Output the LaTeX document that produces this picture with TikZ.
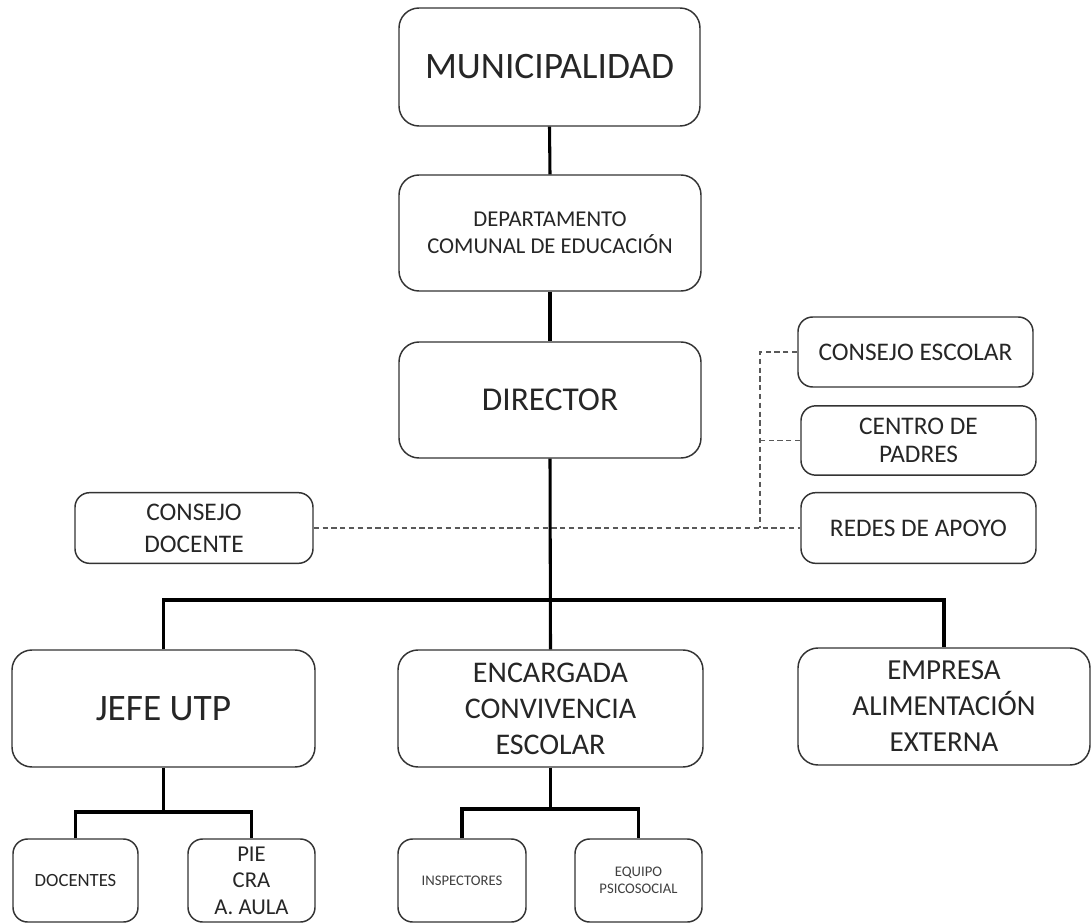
\documentclass[tikz,border=0pt]{standalone}
\usepackage{fontspec}
\setmainfont{Carlito}
\definecolor{txt}{HTML}{262626}
\definecolor{edge}{HTML}{333333}
\tikzset{
  orgbox/.style={draw=edge, line width=1.1pt, rounded corners=15pt, fill=white,
    align=center, text=txt, inner sep=0pt},
  smallbox/.style={orgbox, rounded corners=11pt},
  link/.style={line width=2.3pt, black},
  dlink/.style={line width=1.3pt, black!65, dash pattern=on 4pt off 2.6pt},
}
\newcommand{\fsz}[2]{\fontsize{#1}{#2}\selectfont}
\begin{document}
\begin{tikzpicture}[x=0.75pt,y=-0.75pt]
\useasboundingbox[fill=white] (0,0) rectangle (1092,924);

% top chain
\node[orgbox, minimum width=225.75pt, minimum height=88.5pt, font=\fsz{28}{33}] (muni) at (549.5,67) {MUNICIPALIDAD};
\node[orgbox, minimum width=226.5pt, minimum height=87pt, font=\fsz{17}{20.25}] (dept) at (550,233) {DEPARTAMENTO\\COMUNAL DE EDUCACIÓN};
\node[orgbox, minimum width=226.5pt, minimum height=87pt, font=\fsz{25}{30}] (dir) at (550,400) {DIRECTOR};

% side boxes
\node[smallbox, minimum width=178.5pt, minimum height=53pt, font=\fsz{19}{24}] (cdoc) at (194,528) {CONSEJO\\DOCENTE};
\node[smallbox, minimum width=176.25pt, minimum height=52.5pt, font=\fsz{19}{21}] (cesc) at (915.5,352) {CONSEJO ESCOLAR};
\node[smallbox, minimum width=176.25pt, minimum height=52pt, font=\fsz{19}{21}] (cpad) at (918.5,440.5) {CENTRO DE\\PADRES};
\node[smallbox, minimum width=176.25pt, minimum height=53pt, font=\fsz{19}{21}] (redes) at (918.5,528) {REDES DE APOYO};

% second level
\node[orgbox, minimum width=227.25pt, minimum height=87.75pt, font=\fsz{28}{33}] (jefe) at (163.5,708.5) {JEFE UTP};
\node[orgbox, minimum width=228.75pt, minimum height=87.75pt, font=\fsz{22.5}{27}] (enc) at (550.5,708.5) {ENCARGADA\\CONVIVENCIA\\ESCOLAR};
\node[orgbox, minimum width=219pt, minimum height=87.75pt, font=\fsz{21.75}{27}] (emp) at (944,706.5) {EMPRESA\\ALIMENTACIÓN\\EXTERNA};

% third level
\node[smallbox, minimum width=93.75pt, minimum height=62.25pt, font=\fsz{14}{17}] (doc) at (75.5,880.5) {DOCENTES};
\node[smallbox, minimum width=95.25pt, minimum height=62.25pt, font=\fsz{17}{20}] (pie) at (251.5,880.5) {PIE\\CRA\\A. AULA};
\node[smallbox, minimum width=96pt, minimum height=62.25pt, font=\fsz{11}{13}, text=black!75] (insp) at (462,880.5) {INSPECTORES};
\node[smallbox, minimum width=95.25pt, minimum height=62.25pt, font=\fsz{11}{12.75}, text=black!75] (equipo) at (638.5,880.5) {EQUIPO\\PSICOSOCIAL};

% connector coordinates
\coordinate (bus) at (549,600);
\coordinate (b1) at (163.5,812);
\coordinate (b2) at (550.5,809);
\coordinate (d1) at (760,352);
\coordinate (d3) at (760,528);

% dashed links (behind the trunk)
\draw[dlink] (cdoc.east) -- (redes.west);
\draw[dlink] (cesc.west) -- (d1) -- (d3);
\draw[dlink] (cpad.west) -- (cpad.west -| d1);

% solid links
\draw[link] (muni.south) -- (dept.north);
\draw[link] (dept.south) -- (dir.north);
\draw[link] (dir.south) -- (enc.north);
\draw[link] (jefe.north) |- (bus) -| (emp.north);
\draw[link] (jefe.south) -- (b1);
\draw[link] (doc.north) |- (b1) -| (pie.north);
\draw[link] (enc.south) -- (b2);
\draw[link] (insp.north) |- (b2) -| (equipo.north);
\end{tikzpicture}
\end{document}
